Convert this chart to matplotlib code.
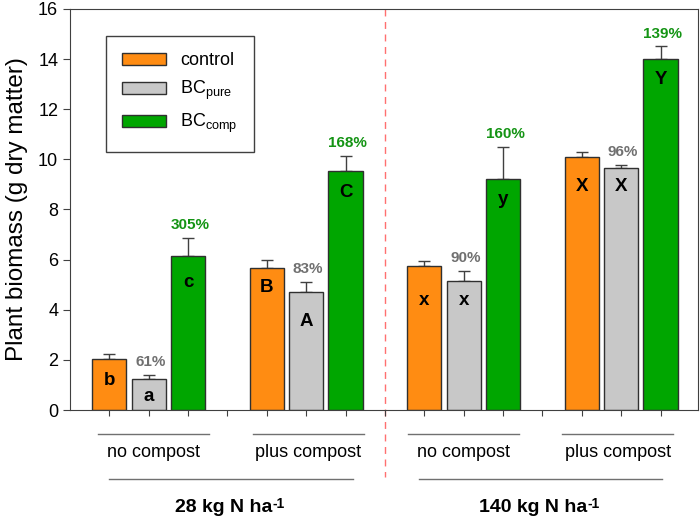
import matplotlib.pyplot as plt
import matplotlib.transforms as mtransforms
from matplotlib.patches import Patch

plt.rcParams['font.family'] = ['Liberation Sans', 'DejaVu Sans']

# bar data (g dry matter) in plotting order: control, BCpure, BCcomp for each group
positions = [1, 2, 3, 5, 6, 7, 9, 10, 11, 13, 14, 15]
values = [2.02, 1.22, 6.15, 5.67, 4.72, 9.52, 5.76, 5.16, 9.22, 10.08, 9.64, 14.0]
errors = [0.22, 0.18, 0.73, 0.33, 0.40, 0.62, 0.17, 0.39, 1.28, 0.20, 0.14, 0.51]
treatments = ['control', 'BCpure', 'BCcomp'] * 4
letters = ['b', 'a', 'c', 'B', 'A', 'C', 'x', 'x', 'y', 'X', 'X', 'Y']
letter_y = [1.17, 0.53, 5.07, 4.87, 3.52, 8.66, 4.36, 4.36, 8.38, 8.91, 8.91, 13.17]
percents = ['', '61%', '305%', '', '83%', '168%', '', '90%', '160%', '', '96%', '139%']

sub_groups = ['no compost', 'plus compost', 'no compost', 'plus compost']
sub_spans = [(0.71, 3.53), (4.64, 7.46), (8.58, 11.4), (12.5, 15.33)]
n_levels = ['28 kg N ha', '140 kg N ha']
n_spans = [(1.0, 7.2), (8.86, 15.05)]

colors = {'control': '#ff8c12', 'BCpure': '#c8c8c8', 'BCcomp': '#00a600'}
pct_colors = {'BCpure': '#707070', 'BCcomp': '#149414'}

fig = plt.figure(figsize=(7, 5.23), dpi=100)
ax = fig.add_axes([0.1, 0.216, 0.897, 0.767])

ax.bar(positions, values, width=0.87, color=[colors[t] for t in treatments],
       edgecolor='#303030', linewidth=1.0, zorder=2)
ax.errorbar(positions, values, yerr=[[0] * len(errors), errors], fmt='none',
            ecolor='#404040', elinewidth=1.0, capsize=4.5, capthick=1.0, zorder=1)

for x, lab, ly in zip(positions, letters, letter_y):
    ax.text(x, ly, lab, ha='center', va='center', fontsize=13.5, fontweight='bold')

for x, v, e, p, t in zip(positions, values, errors, percents, treatments):
    if p:
        ax.text(x + 0.05, v + e + 0.22, p, ha='center', va='bottom', fontsize=11,
                fontweight='bold', color=pct_colors[t])

ax.set_xlim(0, 15.95)
ax.set_ylim(0, 16)
ax.set_yticks(range(0, 17, 2))
ax.set_xticks(range(1, 16))
ax.set_xticklabels([])
ax.tick_params(axis='y', labelsize=13, direction='out', length=5, color='#404040')
ax.tick_params(axis='x', direction='out', length=4.5, color='#404040')
for sp in ax.spines.values():
    sp.set_color('#404040')
ax.set_ylabel('Plant biomass (g dry matter)', fontsize=17.5, labelpad=7)

# group lines and labels below the axis
trans = mtransforms.blended_transform_factory(ax.transData, ax.transAxes)
ax.plot([8, 8], [1.0, -0.167], transform=trans, color='#ff7070', lw=1.0,
        ls=(0, (5, 4)), clip_on=False, zorder=0)

for name, (x0, x1) in zip(sub_groups, sub_spans):
    ax.plot([x0, x1], [-0.06, -0.06], transform=trans, color='#707070', lw=1.0, clip_on=False)
    ax.text((x0 + x1) / 2, -0.107, name, transform=trans, ha='center', va='center', fontsize=13)

for name, (x0, x1) in zip(n_levels, n_spans):
    ax.plot([x0, x1], [-0.172, -0.172], transform=trans, color='#707070', lw=1.0, clip_on=False)
    txt = ax.text((x0 + x1) / 2 - 0.2, -0.244, name, transform=trans, ha='center', va='center',
                  fontsize=14, fontweight='bold')
    # superscript "-1" with a plain hyphen, right after the label
    ax.annotate('-1', xy=(1, 1), xycoords=txt, xytext=(0.5, -3.5),
                textcoords='offset points', ha='left', va='center',
                fontsize=10, fontweight='bold')

handles = [Patch(facecolor=colors['control'], edgecolor='#303030', label='control'),
           Patch(facecolor=colors['BCpure'], edgecolor='#303030', label='BC$_\\mathregular{pure}$'),
           Patch(facecolor=colors['BCcomp'], edgecolor='#303030', label='BC$_\\mathregular{comp}$')]
leg = ax.legend(handles=handles, loc='upper left', bbox_to_anchor=(0.043, 0.955),
                fontsize=13, fancybox=False, edgecolor='#404040', framealpha=1,
                handlelength=2.4, handleheight=0.7, borderpad=0.9, labelspacing=0.55)
leg.get_frame().set_linewidth(1.0)

fig.savefig('out.png', dpi=100)
